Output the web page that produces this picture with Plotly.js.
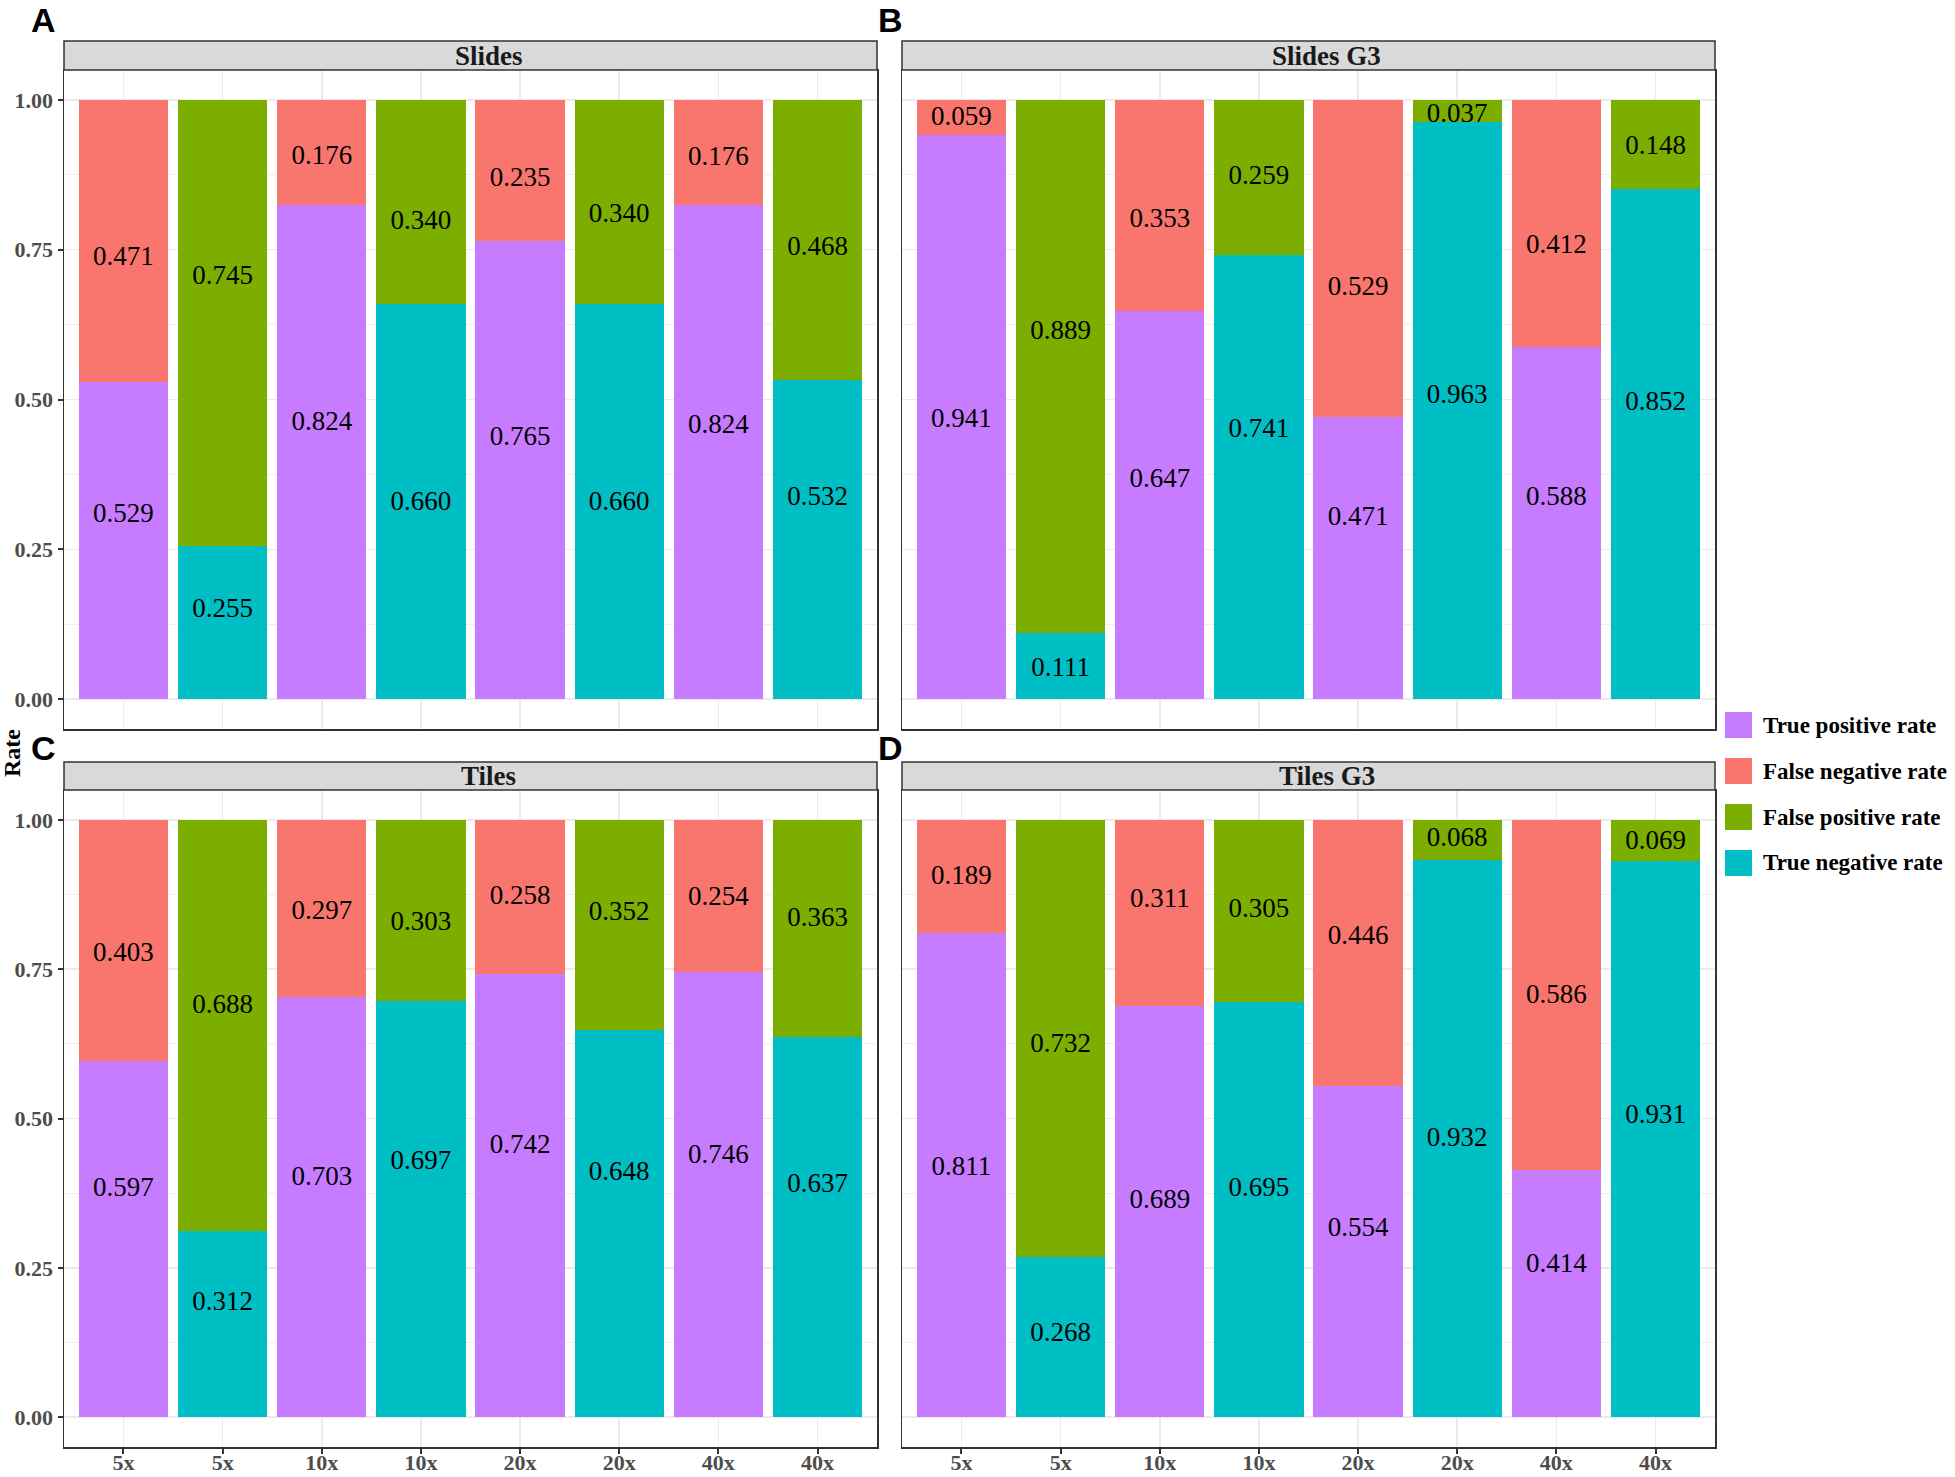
<!DOCTYPE html>
<html>
<head>
<meta charset="utf-8">
<script src="https://cdn.plot.ly/plotly-3.0.1.min.js"></script>
<style>html,body{margin:0;padding:0;background:#fff;}#chart{width:1955px;height:1477px;}</style>
</head>
<body>
<div id="chart"></div>
<script>
// ---------------- data ----------------
const xLabels = ['5x', '5x', '10x', '10x', '20x', '20x', '40x', '40x'];
const panelTitles = ['Slides', 'Slides G3', 'Tiles', 'Tiles G3'];
const panelTags = ['A', 'B', 'C', 'D'];
const seriesNames = ['True positive rate', 'False negative rate', 'False positive rate', 'True negative rate'];
const yTickVals = [0, 0.25, 0.5, 0.75, 1];
const yTickText = ['0.00', '0.25', '0.50', '0.75', '1.00'];
const yAxisTitle = 'Rate';

// Panel A: Slides
const tprA = [0.529, 0.824, 0.765, 0.824];
const fnrA = [0.471, 0.176, 0.235, 0.176];
const tnrA = [0.255, 0.660, 0.660, 0.532];
const fprA = [0.745, 0.340, 0.340, 0.468];
// Panel B: Slides G3
const tprB = [0.941, 0.647, 0.471, 0.588];
const fnrB = [0.059, 0.353, 0.529, 0.412];
const tnrB = [0.111, 0.741, 0.963, 0.852];
const fprB = [0.889, 0.259, 0.037, 0.148];
// Panel C: Tiles
const tprC = [0.597, 0.703, 0.742, 0.746];
const fnrC = [0.403, 0.297, 0.258, 0.254];
const tnrC = [0.312, 0.697, 0.648, 0.637];
const fprC = [0.688, 0.303, 0.352, 0.363];
// Panel D: Tiles G3
const tprD = [0.811, 0.689, 0.554, 0.414];
const fnrD = [0.189, 0.311, 0.446, 0.586];
const tnrD = [0.268, 0.695, 0.932, 0.931];
const fprD = [0.732, 0.305, 0.068, 0.069];

// heights (in Rate units) at which the jittered value labels sit in the reference
const tprLabA = [0.310, 0.465, 0.440, 0.460];
const fnrLabA = [0.740, 0.908, 0.871, 0.906];
const tnrLabA = [0.152, 0.331, 0.331, 0.340];
const fprLabA = [0.708, 0.800, 0.812, 0.756];
const tprLabB = [0.469, 0.369, 0.306, 0.340];
const fnrLabB = [0.973, 0.804, 0.690, 0.760];
const tnrLabB = [0.054, 0.452, 0.510, 0.498];
const fprLabB = [0.617, 0.875, 0.979, 0.925];
const tprLabC = [0.385, 0.404, 0.458, 0.440];
const fnrLabC = [0.779, 0.850, 0.875, 0.873];
const tnrLabC = [0.194, 0.431, 0.412, 0.392];
const fprLabC = [0.692, 0.831, 0.848, 0.838];
const tprLabD = [0.421, 0.365, 0.319, 0.258];
const fnrLabD = [0.908, 0.869, 0.808, 0.708];
const tnrLabD = [0.142, 0.385, 0.469, 0.508];
const fprLabD = [0.627, 0.852, 0.971, 0.967];

// ---------------- styling ----------------
const colors = ['#C77CFF', '#F8766D', '#7CAE00', '#00BFC4'];
const serif = 'Liberation Serif, Times New Roman, serif';
const W = 1955, H = 1477;
const px = v => v / W, py = v => 1 - v / H;
const labelNudge = -0.004; // small vertical correction of text baseline

const panelData = [
  {tpr: tprA, fnr: fnrA, tnr: tnrA, fpr: fprA, lab: [tprLabA, fnrLabA, fprLabA, tnrLabA]},
  {tpr: tprB, fnr: fnrB, tnr: tnrB, fpr: fprB, lab: [tprLabB, fnrLabB, fprLabB, tnrLabB]},
  {tpr: tprC, fnr: fnrC, tnr: tnrC, fpr: fprC, lab: [tprLabC, fnrLabC, fprLabC, tnrLabC]},
  {tpr: tprD, fnr: fnrD, tnr: tnrD, fpr: fprD, lab: [tprLabD, fnrLabD, fprLabD, tnrLabD]}
];

const xPos = xLabels.map((_, i) => i + 1);
const posPos = xPos.filter((_, i) => i % 2 === 0); // TPR / FNR bars
const negPos = xPos.filter((_, i) => i % 2 === 1); // TNR / FPR bars

// panel geometry in pixels
const colX = [[64, 877], [902, 1715]];
const rowY = [[70, 729], [790, 1447]];
const stripH = [29, 28];
const stripTextShift = 18;

const traces = [];
panelData.forEach((p, k) => {
  const ax = k === 0 ? '' : String(k + 1);
  const xa = 'x' + ax, ya = 'y' + ax;
  const series = [
    {x: posPos, y: p.tpr, c: 0},
    {x: posPos, y: p.fnr, c: 1},
    {x: negPos, y: p.tnr, c: 3},
    {x: negPos, y: p.fpr, c: 2}
  ];
  series.forEach(s => {
    traces.push({
      type: 'bar', x: s.x, y: s.y, width: 0.9, xaxis: xa, yaxis: ya,
      marker: {color: colors[s.c], line: {width: 0}},
      name: seriesNames[s.c], showlegend: false, hoverinfo: 'skip'
    });
  });
  const labSeries = [
    {x: posPos, v: p.tpr, h: p.lab[0]},
    {x: posPos, v: p.fnr, h: p.lab[1]},
    {x: negPos, v: p.fpr, h: p.lab[2]},
    {x: negPos, v: p.tnr, h: p.lab[3]}
  ];
  labSeries.forEach(s => {
    traces.push({
      type: 'scatter', mode: 'text', x: s.x, y: s.h.map(h => h + labelNudge), xaxis: xa, yaxis: ya,
      text: s.v.map(v => v.toFixed(3)), textposition: 'middle center',
      textfont: {family: serif, size: 27, color: '#000'},
      showlegend: false, hoverinfo: 'skip', cliponaxis: false
    });
  });
});

const layout = {
  width: W, height: H,
  margin: {l: 0, r: 0, t: 0, b: 0},
  paper_bgcolor: '#fff', plot_bgcolor: '#fff',
  barmode: 'stack', showlegend: false, hovermode: false,
  shapes: [], annotations: []
};

panelData.forEach((p, k) => {
  const col = k % 2, row = Math.floor(k / 2);
  const ax = k === 0 ? '' : String(k + 1);
  const isLeft = col === 0, isBottom = row === 1;
  layout['xaxis' + ax] = {
    domain: [px(colX[col][0]), px(colX[col][1])],
    anchor: 'y' + ax, range: [0.4, 8.6],
    tickvals: xPos, ticktext: xLabels,
    showticklabels: isBottom, ticks: isBottom ? 'outside' : '',
    ticklen: 5, tickwidth: 2, tickcolor: '#333333',
    ticklabelstandoff: -10,
    tickfont: {family: serif, size: 22, color: '#4D4D4D', weight: 'bold'},
    showgrid: true, gridcolor: '#EBEBEB', gridwidth: 1.5,
    zeroline: false, showline: true, mirror: true, linecolor: '#333333', linewidth: 1.5,
    fixedrange: true
  };
  layout['yaxis' + ax] = {
    domain: [py(rowY[row][1]), py(rowY[row][0])],
    anchor: 'x' + ax, range: [-0.05, 1.05],
    tickvals: yTickVals, ticktext: yTickText,
    showticklabels: isLeft, ticks: isLeft ? 'outside' : '',
    ticklen: 5, tickwidth: 2, tickcolor: '#333333',
    tickfont: {family: serif, size: 22, color: '#4D4D4D', weight: 'bold'},
    showgrid: true, gridcolor: '#EBEBEB', gridwidth: 1.5,
    minor: {tick0: 0.125, dtick: 0.25, showgrid: true, gridcolor: '#EFEFEF', gridwidth: 1, ticks: ''},
    zeroline: false, showline: true, mirror: true, linecolor: '#333333', linewidth: 1.5,
    fixedrange: true
  };
  const sy0 = rowY[row][0] - stripH[row], sy1 = rowY[row][0];
  layout.shapes.push({
    type: 'rect', xref: 'paper', yref: 'paper',
    x0: px(colX[col][0]), x1: px(colX[col][1]), y0: py(sy1), y1: py(sy0),
    fillcolor: '#D9D9D9', line: {color: '#333333', width: 1.5}, layer: 'above'
  });
  layout.annotations.push({
    xref: 'paper', yref: 'paper',
    x: px((colX[col][0] + colX[col][1]) / 2 + stripTextShift), y: py((sy0 + sy1) / 2),
    text: panelTitles[k], showarrow: false, xanchor: 'center', yanchor: 'middle',
    font: {family: serif, size: 27, color: '#1A1A1A', weight: 'bold'}
  });
  const tag = {
    xref: 'paper', yref: 'paper',
    x: px(col === 0 ? 43 : 890),
    text: panelTags[k], showarrow: false, xanchor: 'center', borderpad: 0,
    font: {family: 'Liberation Sans, Arial, sans-serif', size: 34, color: '#000', weight: 'bold'}
  };
  if (row === 0) { tag.y = 1; tag.yanchor = 'top'; }
  else { tag.y = py(748); tag.yanchor = 'middle'; }
  layout.annotations.push(tag);
});

layout.annotations.push({
  xref: 'paper', yref: 'paper', x: px(12), y: py(753), textangle: -90,
  text: yAxisTitle, showarrow: false, xanchor: 'center', yanchor: 'middle',
  font: {family: serif, size: 24, color: '#000', weight: 'bold'}
});

seriesNames.forEach((name, i) => {
  const cy = 725 + i * 46;
  layout.shapes.push({
    type: 'rect', xref: 'paper', yref: 'paper',
    x0: px(1725), x1: px(1752), y0: py(cy + 13), y1: py(cy - 13),
    fillcolor: colors[i], line: {width: 0}
  });
  layout.annotations.push({
    xref: 'paper', yref: 'paper', x: px(1761), y: py(cy),
    text: name, showarrow: false, xanchor: 'left', yanchor: 'middle',
    font: {family: serif, size: 23, color: '#000', weight: 'bold'}
  });
});

Plotly.newPlot('chart', traces, layout, {staticPlot: true, displayModeBar: false});
</script>
</body>
</html>
